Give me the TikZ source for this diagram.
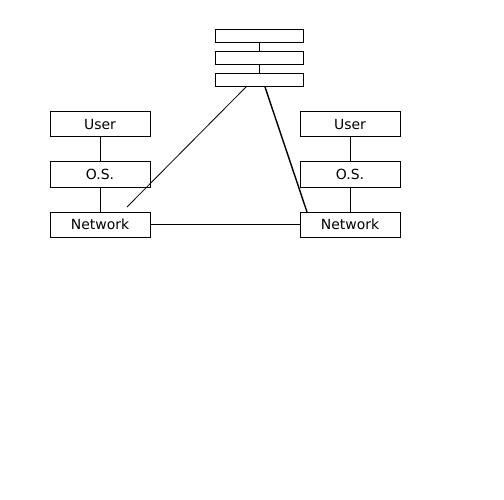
\documentclass[tikz,border=0pt]{standalone}
\usepackage{fontspec}
\setmainfont{DejaVu Sans}
\usepackage{tikz}
\usetikzlibrary{positioning,calc}
\tikzstyle{livello} = [rectangle, minimum width=100bp, minimum height=25bp, inner sep=0pt, outer sep=0pt, text centered, draw=black, line width=1bp, font=\fontsize{14}{16}\selectfont]
\tikzstyle{cella} = [rectangle, minimum width=88bp, minimum height=13bp, inner sep=0pt, outer sep=0pt, draw=black, line width=1bp]
\tikzstyle{linea} = [line width=0.8bp]
\begin{document}
\begin{tikzpicture}[x=1bp,y=-1bp]
	\useasboundingbox (0,0) rectangle (504,500);
	\node (t1) at (259,36.5) [cella] {};
	\node (t2) at (259,58.5) [cella] {};
	\node (t3) at (259,80.5) [cella] {};
	\node (u1) at (100,124.5) [livello] {User};
	\node (o1) at (100,174.5) [livello] {O.S.};
	\node (n1) at (100,224.5) [livello] {Network};
	\node (u2) at (350,124.5) [livello] {User};
	\node (o2) at (350,174.5) [livello] {O.S.};
	\node (n2) at (350,224.5) [livello] {Network};
	\coordinate (a1) at ($(n1.north west)+(77,-5)$);
	\coordinate (a2) at ($(t3.south west)+(31,0)$);
	\coordinate (b1) at ($(t3.south west)+(50,0)$);
	\coordinate (b2) at ($(n2.north west)+(7,0)$);
	\draw[linea] (t1) -- (t2);
	\draw[linea] (t2) -- (t3);
	\draw[linea] (u1) -- (o1);
	\draw[linea] (o1) -- (n1);
	\draw[linea] (u2) -- (o2);
	\draw[linea] (o2) -- (n2);
	\draw[linea] (n1) -- (n2);
	\draw[linea] (a1) -- (a2);
	\draw[line width=1.4bp] (b1) -- (b2);
\end{tikzpicture}
\end{document}
